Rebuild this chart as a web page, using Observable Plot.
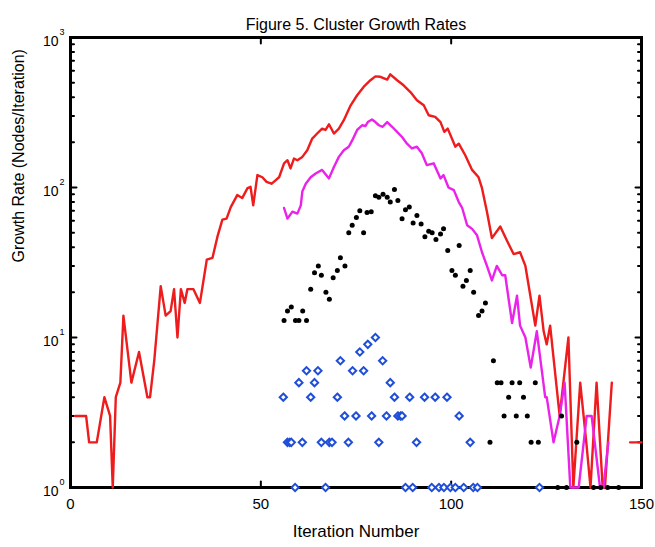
<!DOCTYPE html>
<html><head><meta charset="utf-8">
<script src="https://cdn.jsdelivr.net/npm/d3@7"></script>
<script src="https://cdn.jsdelivr.net/npm/@observablehq/plot@0.6"></script>
<style>body{margin:0;background:#fff;} #chart{width:655px;height:547px;}</style>
</head><body><div id="chart"></div>
<script>
// Total cluster growth (red line); NaN marks the gap before the last segment
const redX = [1.2,4.1,4.9,6.9,8.9,10.4,11.1,11.9,13.1,13.9,16,18,20.2,20.9,22,23.7,25,26.3,27.2,28.1,29,30,30.7,32.3,34,35.8,37.3,38.6,39.9,41,42.1,43.8,45.1,46.5,47.3,48,49.1,50.4,51.5,52.8,53.4,54.8,56.1,57,57.8,58.7,59.6,60.9,62.2,63.5,64.8,66.1,67,67.9,69.2,70.5,71.8,73.6,75.3,77,78.8,80.1,81.4,83.2,84,85.8,87.5,89.3,91,92.8,94.1,95.8,97.2,98.2,99.1,101.1,102,103.7,105.5,107.2,108.1,109.4,110.7,112.9,114.7,116.4,118.1,119.5,120.8,122.1,123.2,124.3,125.1,126,128.5,130.8,132.1,133.9,135.5,136.6,138.2,139.8,140.4,142.2,144,147,150];
const redY = [3,3,2,2,4,3,1,4,5,14,5,8,4,4,7,22,14,15,21,10,21,17,21,21,17,33,34,47,61,62,74,89,85,99,101,76,121,117,109,106,109,117,145,152,134,156,152,160,177,212,229,247,242,264,229,247,281,353,412,468,519,551,547,524,568,519,480,433,382,353,303,296,273,235,247,187,196,164,131,117,99,69,46,55,44,36,37,30,19,12,19,11,9,12,3,10,1,5,2,1,5,1,1,5,NaN,2,2];

// Magenta line
const magentaX = [56.1,57,58.3,59.6,60.5,60.9,61.8,63.1,64.4,66.1,67.9,69.2,70.5,71.8,73.1,74,75.3,76.6,77.5,78.1,79.2,80.1,81,82,83.2,84.5,85.8,87.1,88.4,89.7,91,92.3,93.6,95.4,97.2,98,99.3,100.7,102,102.9,104.2,105.5,106.8,108.1,109.4,110.7,112,113.4,114.2,116,117.3,118.1,119.5,120.9,122.5,124.7,125.1,126.9,128.5,129.8,131.3,133.5,135.6,136.9,139.1,140,141.3];
const magentaY = [73,62,69,67,76,94,106,117,124,131,115,137,160,177,187,206,242,260,257,273,284,273,260,254,273,254,235,217,196,182,187,169,141,145,115,121,100,96,80,73,56,53,48,37,30,24,30,26,26,12.5,19,12,10,6.3,11,4,4,2,3,5,1,1,3,3,1,1,2];

// Black dots
const blackX = [56.1,57,58,59.1,60,61,62,63.1,64.1,65.1,65.9,67.1,68,69,70.1,70.9,72.1,73.1,74,75.1,76,77,77.9,79,80.1,81,82.1,83.2,84,85.1,86,87.1,88,89,90,91,92.1,93.1,94.1,95,96,97.2,98,99.1,100.2,101.1,102.1,103.1,104,105,105.9,107.2,108.1,109,110.2,111.1,112.1,113.1,113.9,115.1,116,117.1,118,119,120,121,122.1,122.9,129,133,128,130.3,137.4,139.3,141.1,144];
const blackY = [13,15,16,13,13,15,13,21,27,30,26,20,18,25,28,34,30,50,56,63,70,50,68,69,88,86,90,86,80,97,82,62,71,74,58,65,57,47,51,50,45,49,53,38,28,26,41,22,24,28,20,14,15,17,2,7,5,5,3,4,5,3,5,4,3,2,5,2,3,2,1,1,1,1,1,1];

// Blue open diamonds
const blueX = [55.9,57,57.6,58,60,60.9,62,63.1,64.1,65,65.9,68,68.7,70.1,70.9,72,73,74.1,75,76,77,78.1,79.1,80.1,81,82,83,84,85.1,86,86.7,87.1,89.1,90.9,93,95.8,98.9,102.1,105,59,67,88,89.9,94.9,96.8,98.1,99.8,101.1,103.3,105.8,106.9,123.2];
const blueY = [4,2,2,2,5,2,6,4,5,6,2,2,2,4,7,3,2,6,3,8,6,9,3,10,2,7,3,5,4,3,3,3,4,2,4,4,4,3,2,1,1,1,1,1,1,1,1,1,1,1,1,1];

const xTicks = [0, 50, 100, 150];
const yTicks = [1, 10, 100, 1000];
const titleText = "Figure 5. Cluster Growth Rates";
const xLabel = "Iteration Number";
const yLabel = "Growth Rate (Nodes/Iteration)";

const toRows = (xs, ys) => xs.map((x, i) => ({x, y: ys[i]}));
const red = toRows(redX, redY);
const magenta = toRows(magentaX, magentaY);
const black = toRows(blackX, blackY);
const blue = toRows(blueX, blueY);

const minorY = yTicks.slice(0, -1).flatMap(d => [2,3,4,5,6,7,8,9].map(k => k * d));
const innerX = xTicks.slice(1, -1);
const innerY = yTicks.slice(1, -1);
const tickShape = {draw(ctx, l) { ctx.moveTo(0, 0); ctx.lineTo(0, -l); }};
// square diamond (equal diagonals), like MATLAB's 'd' marker
const squareDiamond = {draw(ctx, size) {
  const r = Math.sqrt(size / 2);
  ctx.moveTo(0, -r); ctx.lineTo(r, 0); ctx.lineTo(0, r); ctx.lineTo(-r, 0); ctx.closePath();
}};
const font = "'Liberation Sans', Arial, Helvetica, sans-serif";
const tk = {shape: tickShape, anchor: "start", stroke: "black", strokeWidth: 2};

const chart = Plot.plot({
  width: 655, height: 547,
  marginLeft: 70, marginRight: 14, marginTop: 37, marginBottom: 60,
  style: {fontFamily: font, background: "white", color: "black"},
  x: {domain: [0, 150], axis: null},
  y: {type: "log", domain: [1, 1000], axis: null},
  marks: [
    Plot.frame({stroke: "black", strokeWidth: 3}),
    Plot.vector(innerX, {x: d => d, frameAnchor: "bottom", rotate: 0, length: 6, ...tk}),
    Plot.vector(innerX, {x: d => d, frameAnchor: "top", rotate: 180, length: 6, ...tk}),
    Plot.vector(innerY, {y: d => d, frameAnchor: "left", rotate: 90, length: 6, ...tk}),
    Plot.vector(innerY, {y: d => d, frameAnchor: "right", rotate: -90, length: 6, ...tk}),
    Plot.vector(minorY, {y: d => d, frameAnchor: "left", rotate: 90, length: 3.5, ...tk}),
    Plot.vector(minorY, {y: d => d, frameAnchor: "right", rotate: -90, length: 3.5, ...tk}),
    Plot.line(red, {x: "x", y: "y", stroke: "#ee1c1c", strokeWidth: 2.4}),
    Plot.line(magenta, {x: "x", y: "y", stroke: "#ea22ea", strokeWidth: 2.4}),
    Plot.dot(black, {x: "x", y: "y", r: 2.5, fill: "black"}),
    Plot.dot(blue, {x: "x", y: "y", symbol: squareDiamond, r: 2.9, stroke: "#1f4ed8", strokeWidth: 2, fill: "white"}),
    Plot.text(xTicks, {x: d => d, frameAnchor: "bottom", dy: 21, text: d => String(d), fontSize: 15}),
    Plot.text(yTicks, {y: d => d, frameAnchor: "left", dx: -12, dy: 4, textAnchor: "end", text: () => "10", fontSize: 14}),
    Plot.text(yTicks, {y: d => d, frameAnchor: "left", dx: -11, dy: -5, textAnchor: "start", text: d => String(Math.round(Math.log10(d))), fontSize: 9}),
    Plot.text([xLabel], {frameAnchor: "bottom", dy: 49, fontSize: 17}),
    Plot.text([yLabel], {frameAnchor: "left", dx: -52, rotate: -90, fontSize: 16}),
    Plot.text([titleText], {frameAnchor: "top", dy: -19, fontSize: 16})
  ]
});
document.getElementById("chart").appendChild(chart);
</script>
</body></html>
